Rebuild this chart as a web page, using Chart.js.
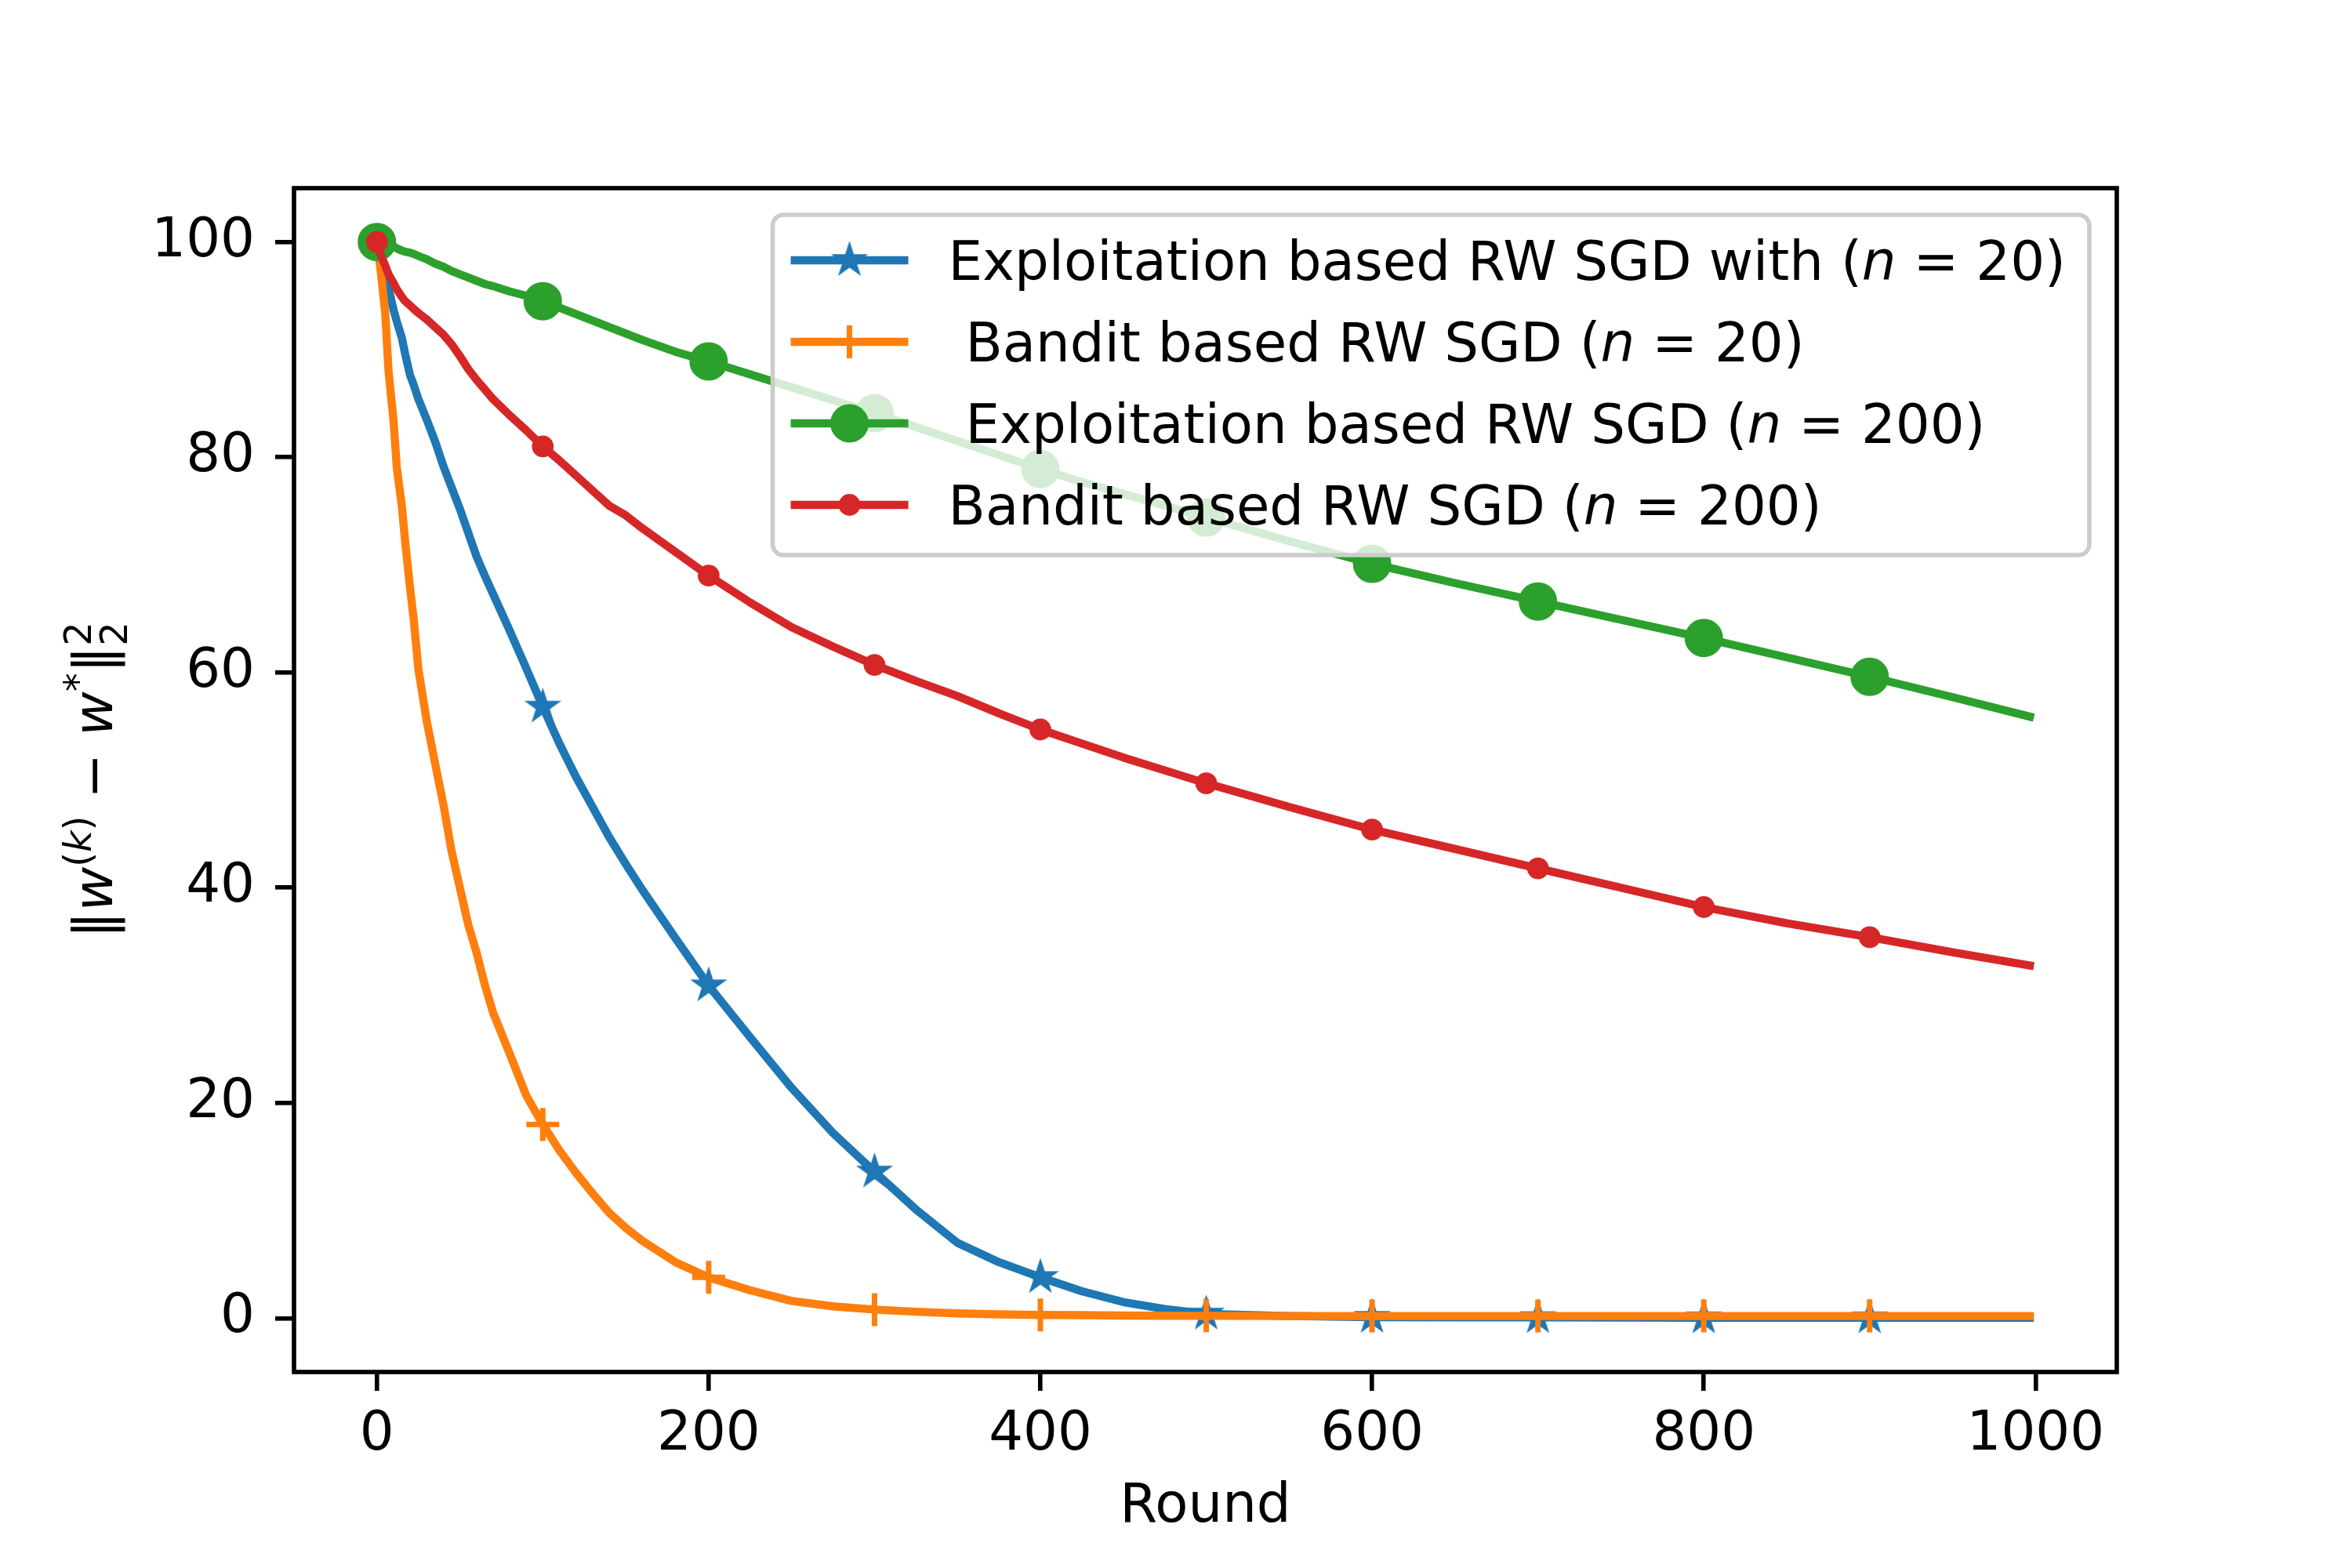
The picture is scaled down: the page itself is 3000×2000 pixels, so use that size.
<!DOCTYPE html>
<html>
<head>
<meta charset="utf-8">
<title>RW SGD convergence</title>
<script src="https://cdn.jsdelivr.net/npm/chart.js@4.4.1/dist/chart.umd.min.js"></script>
<style>
  html, body { margin: 0; padding: 0; background: #fff; }
  #wrap { width: 3000px; height: 2000px; }
</style>
</head>
<body>
<div id="wrap"><canvas id="chart" width="3000" height="2000"></canvas></div>
<script>
// values
const rounds = [0, 2, 5, 7, 10, 12, 15, 17, 20, 22,
  25, 30, 35, 40, 45, 50, 55, 60, 65, 70,
  80, 90, 100, 110, 120, 130, 140, 150, 160, 180,
  200, 225, 250, 275, 300, 325, 350, 375, 400, 425,
  450, 475, 500, 550, 600, 650, 700, 750, 800, 850,
  900, 950, 999];

const exploit20 = [100, 98.8, 97.0, 95.7, 93.7, 92.6, 91.1, 89.6, 87.6, 86.8,
  85.4, 83.5, 81.5, 79.2, 77.2, 75.2, 73.0, 70.8, 69.0, 67.3,
  63.9, 60.4, 56.8, 53.4, 50.3, 47.5, 44.7, 42.2, 39.8, 35.3,
  30.9, 26.1, 21.4, 17.2, 13.6, 10.1, 7.0, 5.2, 3.8, 2.5,
  1.5, 0.85, 0.4, 0.2, 0.1, 0.08, 0.07, 0.06, 0.05, 0.05,
  0.05, 0.05, 0.05];

const bandit20 = [100, 97.7, 93.4, 88.0, 83.4, 79.0, 75.5, 72.2, 67.8, 65.2,
  60.3, 55.5, 51.6, 47.8, 43.4, 40.0, 36.6, 34.0, 31.0, 28.4,
  24.6, 20.7, 18.0, 15.6, 13.5, 11.6, 9.8, 8.4, 7.2, 5.2,
  3.8, 2.6, 1.6, 1.1, 0.8, 0.6, 0.45, 0.35, 0.3, 0.28,
  0.25, 0.23, 0.22, 0.2, 0.2, 0.2, 0.2, 0.2, 0.2, 0.2,
  0.2, 0.2, 0.2];

const exploit200 = [100, 99.9, 99.8, 99.7, 99.6, 99.4, 99.2, 99.1, 99.0, 98.9,
  98.7, 98.4, 98.0, 97.7, 97.3, 97.0, 96.7, 96.4, 96.1, 95.9,
  95.4, 95.0, 94.5, 93.9, 93.3, 92.7, 92.1, 91.5, 90.9, 89.8,
  88.9, 87.7, 86.5, 85.3, 84.1, 82.8, 81.5, 80.2, 78.9, 77.7,
  76.6, 75.5, 74.4, 72.2, 70.1, 68.3, 66.6, 64.9, 63.2, 61.4,
  59.6, 57.7, 55.8];

const bandit200 = [100, 98.9, 97.8, 97.0, 96.2, 95.6, 94.9, 94.5, 94.1, 93.8,
  93.4, 92.8, 92.1, 91.4, 90.5, 89.4, 88.2, 87.2, 86.3, 85.4,
  83.9, 82.5, 81.0, 79.7, 78.3, 76.9, 75.5, 74.6, 73.4, 71.2,
  69.0, 66.5, 64.2, 62.4, 60.7, 59.2, 57.8, 56.2, 54.7, 53.4,
  52.1, 50.9, 49.7, 47.5, 45.4, 43.6, 41.8, 40.0, 38.2, 36.7,
  35.4, 34.0, 32.7];

const seriesLabels = [
  'Exploitation based RW SGD with (n = 20)',
  ' Bandit based RW SGD (n = 20)',
  ' Exploitation based RW SGD (n = 200)',
  'Bandit based RW SGD (n = 200)'
];

const xTicks = [0, 200, 400, 600, 800, 1000];
const yTicks = [0, 20, 40, 60, 80, 100];
const xTitle = 'Round';
// ||w^(k) - w*||_2^2
const yTitleParts = [
  { t: '‖' }, { t: 'w', italic: true },
  { t: '(', sup: true }, { t: 'k', sup: true, italic: true }, { t: ')', sup: true },
  { t: ' − ' }, { t: 'w', italic: true }, { t: '*', sup: true },
  { t: '‖' }, { t: '2', sup: true, stack: true }, { t: '2', sub: true }
];

const FF = 'DejaVu Sans';
const FS = 69;
const colors = ['#1f77b4', '#ff7f0e', '#2ca02c', '#d62728'];

// matplotlib-like filled five point star
function makeStar(color) {
  const c = document.createElement('canvas');
  c.width = c.height = 60;
  const g = c.getContext('2d');
  const R = 20, r = R * 0.381966;
  g.beginPath();
  for (let i = 0; i < 10; i++) {
    const rad = i % 2 ? r : R;
    const a = -Math.PI / 2 + i * Math.PI / 5;
    g.lineTo(30 + rad * Math.cos(a), 30 + rad * Math.sin(a));
  }
  g.closePath();
  g.fillStyle = color;
  g.fill();
  g.lineWidth = 3;
  g.lineJoin = 'miter';
  g.strokeStyle = color;
  g.stroke();
  return c;
}

const markers = [
  { style: makeStar(colors[0]), radius: 20, border: 0 },
  { style: 'cross', radius: 21, border: 7 },
  { style: 'circle', radius: 21, border: 7 },
  { style: 'circle', radius: 10.4, border: 7 }
];

const seriesValues = [exploit20, bandit20, exploit200, bandit200];

function isMarked(ctx) {
  const r = rounds[ctx.dataIndex];
  return r !== undefined && r % 100 === 0 && r < 1000;
}

const datasets = seriesValues.map((vals, i) => ({
  label: seriesLabels[i],
  data: rounds.map((r, j) => ({ x: r, y: vals[j] })),
  borderColor: colors[i],
  backgroundColor: colors[i],
  borderWidth: 10.4,
  borderJoinStyle: 'round',
  tension: 0,
  fill: false,
  order: 4 - i, // later series on top, like matplotlib
  pointStyle: markers[i].style,
  pointBackgroundColor: colors[i],
  pointBorderColor: colors[i],
  pointBorderWidth: markers[i].border,
  pointRadius: (ctx) => (isMarked(ctx) ? markers[i].radius : 0),
  pointHoverRadius: (ctx) => (isMarked(ctx) ? markers[i].radius : 0)
}));

function font(size, italic) {
  return (italic ? 'italic ' : '') + size + 'px "' + FF + '"';
}

function richParts(text) {
  return text.split(/(\bn\b)/).filter(s => s.length).map(s => ({ t: s, italic: s === 'n' }));
}

function measureParts(ctx, parts, size) {
  let w = 0;
  parts.forEach(p => {
    ctx.font = font(size, p.italic);
    w += ctx.measureText(p.t).width;
  });
  return w;
}

function drawParts(ctx, parts, x, y, size) {
  parts.forEach(p => {
    ctx.font = font(size, p.italic);
    ctx.fillText(p.t, x, y);
    x += ctx.measureText(p.t).width;
  });
}

const framePlugin = {
  id: 'frame',
  afterDatasetsDraw(chart) {
    const { ctx, chartArea: a } = chart;
    ctx.save();
    ctx.strokeStyle = '#000';
    ctx.lineWidth = 5.6;
    ctx.strokeRect(a.left, a.top, a.right - a.left, a.bottom - a.top);
    ctx.restore();
  }
};

const legendPlugin = {
  id: 'mplLegend',
  afterDraw(chart) {
    const { ctx, chartArea: a } = chart;
    const sets = chart.data.datasets;
    ctx.save();
    const widths = sets.map(ds => measureParts(ctx, richParts(ds.label), FS));
    const textW = Math.max(...widths);
    const rowH = 104;
    const textX = 224;
    const w = textX + textW + 30;
    const h = 58 + rowH * (sets.length - 1) + 64;
    const right = a.right - 35;
    const left = right - w;
    const top = a.top + 34;

    ctx.beginPath();
    ctx.roundRect(left, top, w, h, 14);
    ctx.fillStyle = 'rgba(255,255,255,0.8)';
    ctx.fill();
    ctx.lineWidth = 5.6;
    ctx.strokeStyle = '#cccccc';
    ctx.stroke();

    sets.forEach((ds, i) => {
      const y = top + 58 + i * rowH;
      ctx.strokeStyle = ds.borderColor;
      ctx.fillStyle = ds.borderColor;
      ctx.lineWidth = 10.4;
      ctx.lineCap = 'butt';
      ctx.beginPath();
      ctx.moveTo(left + 23, y);
      ctx.lineTo(left + 173, y);
      ctx.stroke();
      ctx.lineWidth = markers[i].border;
      Chart.helpers.drawPoint(ctx, {
        pointStyle: markers[i].style,
        radius: markers[i].radius,
        borderWidth: markers[i].border,
        rotation: 0
      }, left + 98, y);
      ctx.fillStyle = '#000';
      ctx.textBaseline = 'alphabetic';
      ctx.textAlign = 'left';
      drawParts(ctx, richParts(ds.label), left + textX, y + 25, FS);
    });
    ctx.restore();
  }
};

const yTitlePlugin = {
  id: 'yTitle',
  afterDraw(chart) {
    const { ctx, chartArea: a } = chart;
    const small = Math.round(FS * 0.7);
    ctx.save();
    let total = 0;
    yTitleParts.forEach(p => {
      ctx.font = font(p.sup || p.sub ? small : FS, p.italic);
      if (!p.stack) total += ctx.measureText(p.t).width;
    });
    ctx.translate(143, (a.top + a.bottom) / 2);
    ctx.rotate(-Math.PI / 2);
    ctx.fillStyle = '#000';
    ctx.textBaseline = 'alphabetic';
    ctx.textAlign = 'left';
    let x = -total / 2;
    yTitleParts.forEach(p => {
      ctx.font = font(p.sup || p.sub ? small : FS, p.italic);
      const dy = p.sup ? -27 : (p.sub ? 19 : 0);
      ctx.fillText(p.t, x, dy);
      if (!p.stack) x += ctx.measureText(p.t).width;
    });
    ctx.restore();
  }
};

const tickFont = { family: FF, size: FS };

new Chart(document.getElementById('chart'), {
  type: 'line',
  data: { datasets },
  options: {
    responsive: false,
    devicePixelRatio: 1,
    animation: false,
    events: [],
    layout: { padding: { left: 0, top: 240, right: 300, bottom: 0 } },
    plugins: {
      legend: { display: false },
      tooltip: { enabled: false }
    },
    scales: {
      x: {
        type: 'linear',
        min: -50,
        max: 1049,
        afterFit: (scale) => { scale.height = 250; },
        afterBuildTicks: (scale) => { scale.ticks = xTicks.map(v => ({ value: v })); },
        border: { display: false },
        grid: {
          display: true,
          drawOnChartArea: false,
          drawTicks: true,
          tickLength: 24,
          lineWidth: 5.6,
          color: '#000'
        },
        ticks: {
          color: '#000',
          font: tickFont,
          padding: 16,
          maxRotation: 0,
          autoSkip: false,
          callback: (v) => String(v)
        },
        title: {
          display: true,
          text: xTitle,
          color: '#000',
          font: { family: FF, size: FS },
          padding: { top: 0, bottom: 36 }
        }
      },
      y: {
        type: 'linear',
        min: -5,
        max: 105,
        afterFit: (scale) => { scale.width = 375; },
        afterBuildTicks: (scale) => { scale.ticks = yTicks.map(v => ({ value: v })); },
        border: { display: false },
        grid: {
          display: true,
          drawOnChartArea: false,
          drawTicks: true,
          tickLength: 24,
          lineWidth: 5.6,
          color: '#000'
        },
        ticks: {
          color: '#000',
          font: tickFont,
          padding: 26,
          autoSkip: false,
          callback: (v) => String(v)
        }
      }
    }
  },
  plugins: [framePlugin, legendPlugin, yTitlePlugin]
});
</script>
</body>
</html>
